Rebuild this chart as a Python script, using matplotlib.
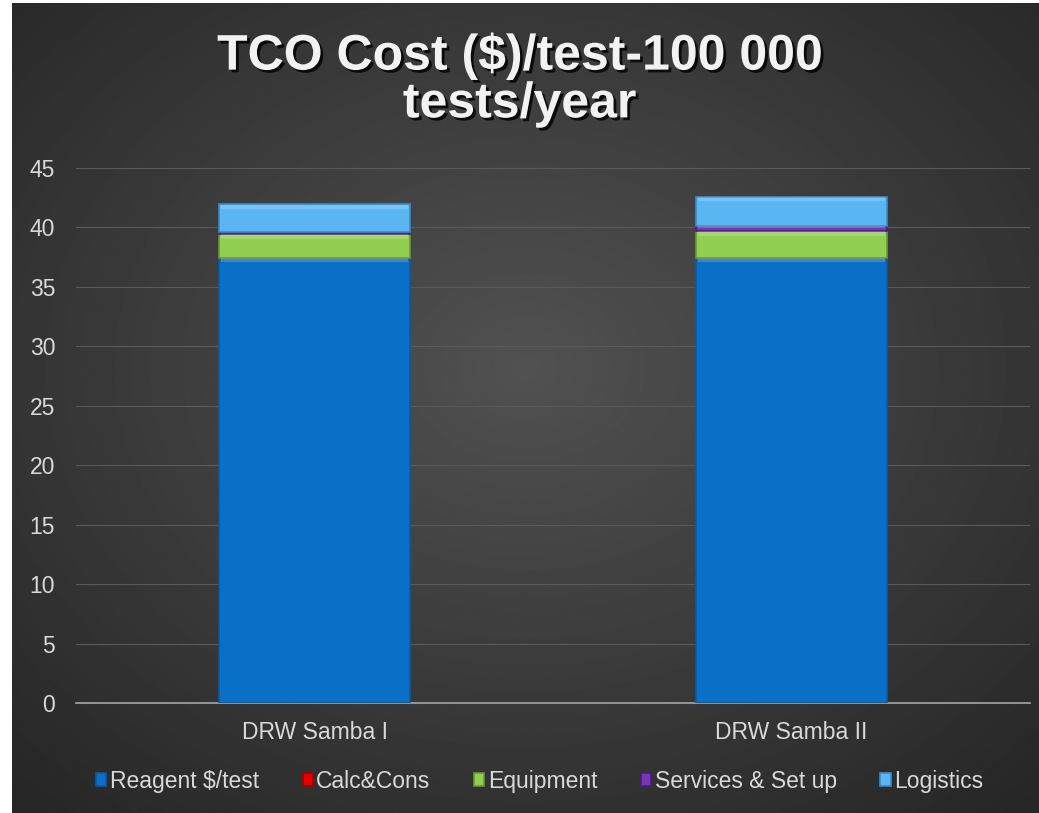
import matplotlib.pyplot as plt
import matplotlib.patheffects as pe
import numpy as np

categories = ["DRW Samba I", "DRW Samba II"]
series = ["Reagent $/test", "Calc&Cons", "Equipment", "Services & Set up", "Logistics"]
reagent = [37.45, 37.45]
calc = [0.0, 0.0]
equipment = [2.0, 2.25]
services = [0.15, 0.45]
logistics = [2.35, 2.45]
values = [reagent, calc, equipment, services, logistics]
colors = ["#0a6fc6", "#e00000", "#92cf50", "#7a35b0", "#5ab6f2"]
edges = ["#0a5aa0", "#a00000", "#6a9a30", "#4a1a80", "#3a8ac8"]
yticks = [0, 5, 10, 15, 20, 25, 30, 35, 40, 45]

W, H = 1039, 813
fig = plt.figure(figsize=(W / 100, H / 100), dpi=100, facecolor="white")

# radial dark background (white strip left and top like the source)
bg = fig.add_axes([12 / W, 0, 1 - 12 / W, 1 - 3 / H])
yy, xx = np.mgrid[0:H, 0:W]
r = np.sqrt(((xx - W * 0.5) / (W * 0.6)) ** 2 + ((yy - H * 0.45) / (H * 0.6)) ** 2)
shade = np.clip(0.32 - 0.14 * r, 0.15, 0.32)
bg.imshow(shade, cmap="gray", vmin=0, vmax=1, aspect="auto", extent=[0, 1, 0, 1])
bg.axis("off")

ax = fig.add_axes([76 / W, 1 - 703 / H, (1030 - 76) / W, (703 - 168) / H])
ax.set_facecolor("none")
x = np.arange(len(categories))
bottom = np.zeros(len(categories))
for name, vals, c, ec in zip(series, values, colors, edges):
    vals = np.array(vals)
    ax.bar(x, vals, 0.4, bottom=bottom, color=c, edgecolor=ec, linewidth=1.2,
           label=name, zorder=3)
    # light top strip as a simple bevel
    hl = np.minimum(vals * 0.3, 0.35)
    ax.bar(x, hl, 0.4 - 0.01, bottom=bottom + vals - hl - 0.04,
           color="white", alpha=0.18, linewidth=0, zorder=4)
    bottom += vals

ax.set_xlim(-0.5, 1.5)
ax.set_ylim(0, 45)
ax.set_yticks(yticks)
ax.set_xticks(x)
ax.set_xticklabels(categories)
ax.grid(axis="y", color="#5a5a5a", linewidth=0.8, zorder=0)
for s in ["top", "right", "left"]:
    ax.spines[s].set_visible(False)
ax.spines["bottom"].set_color("#a6a6a6")
ax.spines["bottom"].set_linewidth(1.2)
ax.tick_params(length=0, colors="#d9d9d9", labelsize=16.5)
ax.tick_params(axis="x", pad=13)
ax.tick_params(axis="y", pad=15)
for lbl in ax.get_xticklabels() + ax.get_yticklabels():
    lbl.set_fontfamily("Liberation Sans")

ax.legend(loc="center", bbox_to_anchor=(0.486, -0.146), ncol=5, frameon=False,
          prop={"family": "Liberation Sans", "size": 16.5}, labelcolor="#d9d9d9",
          handlelength=0.45, handleheight=0.45, handletextpad=0.15, columnspacing=1.9)

fig.text(0.5, 1 - 80 / H, "TCO Cost ($)/test-100 000\ntests/year", ha="center", va="center",
         fontsize=36, fontweight="bold", family="Liberation Sans", color="#f2f2f2",
         linespacing=1.05,
         path_effects=[pe.withSimplePatchShadow(offset=(2, -2), shadow_rgbFace="black", alpha=0.8)])

fig.savefig("out.png", dpi=100, facecolor="white")
